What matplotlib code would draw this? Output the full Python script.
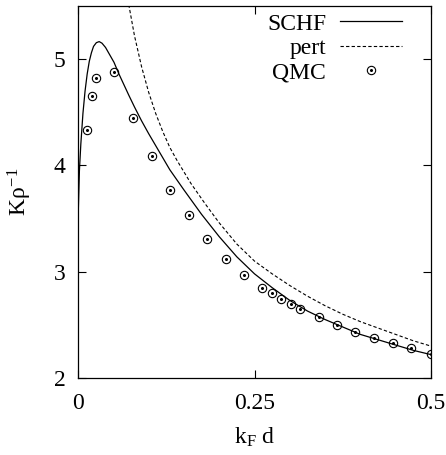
import numpy as np
import matplotlib
matplotlib.use("Agg")
import matplotlib.pyplot as plt
from matplotlib.legend_handler import HandlerTuple

plt.rcParams['font.family'] = ['Liberation Serif', 'DejaVu Serif']
plt.rcParams['mathtext.fontset'] = 'custom'
plt.rcParams['mathtext.rm'] = 'Liberation Serif'
plt.rcParams['mathtext.it'] = 'Liberation Serif'

# SCHF curve
schf_x = [0.0, 0.002, 0.004, 0.007, 0.010, 0.013, 0.016, 0.019, 0.022, 0.026,
          0.030, 0.034, 0.039, 0.045, 0.051, 0.058, 0.065, 0.072, 0.080, 0.090,
          0.100, 0.115, 0.130, 0.150, 0.175, 0.200, 0.225, 0.250, 0.275, 0.300,
          0.325, 0.350, 0.375, 0.400, 0.425, 0.450, 0.475, 0.500]
schf_y = [3.47, 3.95, 4.20, 4.49, 4.70, 4.86, 4.98, 5.06, 5.12, 5.155,
          5.165, 5.15, 5.11, 5.04, 4.97, 4.86, 4.76, 4.66, 4.55, 4.42,
          4.30, 4.13, 3.96, 3.77, 3.54, 3.33, 3.14, 2.98, 2.85, 2.73,
          2.63, 2.55, 2.48, 2.41, 2.36, 2.31, 2.26, 2.22]

# perturbative curve
pert_x = [0.065, 0.072, 0.080, 0.090, 0.100, 0.110, 0.120, 0.130, 0.140, 0.160,
          0.180, 0.200, 0.225, 0.250, 0.275, 0.300, 0.325, 0.350, 0.375, 0.400,
          0.425, 0.450, 0.475, 0.500]
pert_y = [5.80, 5.51, 5.22, 4.93, 4.69, 4.49, 4.32, 4.17, 4.05, 3.83,
          3.64, 3.46, 3.26, 3.10, 2.98, 2.87, 2.77, 2.68, 2.60, 2.53,
          2.47, 2.41, 2.35, 2.30]

# QMC points
qmc_x = [0.0127, 0.0194, 0.0259, 0.0514, 0.0779, 0.1044, 0.131, 0.157, 0.183, 0.209,
         0.235, 0.261, 0.275, 0.288, 0.301, 0.314, 0.341, 0.367, 0.393, 0.419,
         0.446, 0.472, 0.5]
qmc_y = [4.33, 4.65, 4.82, 4.88, 4.45, 4.09, 3.77, 3.53, 3.31, 3.12,
         2.97, 2.85, 2.80, 2.74, 2.70, 2.65, 2.57, 2.50, 2.43, 2.38,
         2.33, 2.28, 2.23]

fig = plt.figure(figsize=(4.46, 4.55), dpi=100)
ax = fig.add_axes([78/446, 77/455, 353/446, 372/455])

l1, = ax.plot(schf_x, schf_y, color='black', lw=0.9)
l2, = ax.plot(pert_x, pert_y, color='black', lw=0.8, linestyle=(0, (3, 2)))
m1, = ax.plot(qmc_x, qmc_y, linestyle='none', marker='o', markersize=6,
              markerfacecolor='none', markeredgecolor='black', markeredgewidth=0.8)
m2, = ax.plot(qmc_x, qmc_y, linestyle='none', marker='o', markersize=1.2,
              color='black')

ax.set_xlim(0, 0.5)
ax.set_ylim(2, 5.5)
ax.set_xticks([0, 0.25, 0.5])
ax.set_xticklabels(['0', '0.25', '0.5'])
ax.set_yticks([2, 3, 4, 5])
ax.tick_params(direction='in', length=6, width=0.8, labelsize=17,
               top=True, right=True)
ax.tick_params(axis='x', pad=11)
ax.tick_params(axis='y', pad=9)
for s in ax.spines.values():
    s.set_linewidth(0.9)

ax.set_xlabel(r'k$_\mathrm{F}$ d', fontsize=17, labelpad=8)
ax.set_ylabel(r'K$\rho^{-1}$', fontsize=17, labelpad=14)

leg = ax.legend([l1, l2, (m1, m2)], ['SCHF', 'pert', 'QMC'],
                handler_map={tuple: HandlerTuple(ndivide=1)},
                loc='upper right', bbox_to_anchor=(0.938, 1.0),
                frameon=False, markerfirst=False, fontsize=17,
                handlelength=2.63, handletextpad=0.59, labelspacing=0.12,
                borderaxespad=0.15, borderpad=0.15)

fig.savefig('out.png', dpi=100)
